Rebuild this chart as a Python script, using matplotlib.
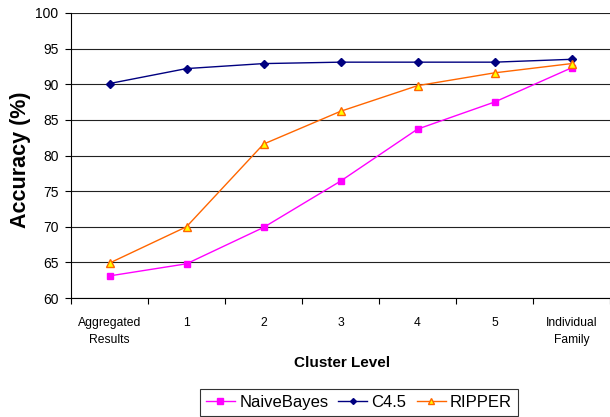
import matplotlib.pyplot as plt
import numpy as np

plt.rcParams['font.family'] = ['Liberation Sans', 'DejaVu Sans']

# cluster levels along the x axis
levels = ['Aggregated\nResults', '1', '2', '3', '4', '5', 'Individual\nFamily']
naive_bayes = [63.1, 64.8, 69.9, 76.4, 83.7, 87.5, 92.3]
c45 = [90.1, 92.2, 92.9, 93.1, 93.1, 93.1, 93.5]
ripper = [64.9, 70.0, 81.6, 86.2, 89.8, 91.6, 92.9]

fig = plt.figure(figsize=(6.1, 4.17), dpi=100)
ax = fig.add_axes([71 / 610, 1 - 298 / 417, 1 - 71 / 610, 285 / 417])

x = np.arange(len(levels))
ax.plot(x, naive_bayes, color='#FF00FF', lw=1, marker='s', ms=5,
        mfc='#FF00FF', mec='#FF00FF', label='NaiveBayes', zorder=3)
ax.plot(x, c45, color='#000080', lw=1, marker='D', ms=4,
        mfc='#000080', mec='#000080', label='C4.5', zorder=3)
ax.plot(x, ripper, color='#FF6600', lw=1, marker='^', ms=6,
        mfc='#FFFF00', mec='#FF6600', mew=1, label='RIPPER', zorder=3)

ax.set_xlim(-0.5, len(levels) - 0.5)
ax.set_ylim(60, 100)
ax.set_yticks(np.arange(60, 101, 5))
ax.yaxis.grid(True, color='#222222', lw=0.8)
ax.set_axisbelow(True)

ax.set_xticks(x)
ax.set_xticklabels(levels, fontsize=8.7, linespacing=1.5)
ax.set_xticks(np.arange(-0.5, len(levels), 1), minor=True)
ax.tick_params(axis='x', which='major', length=0, pad=14)
ax.tick_params(axis='x', which='minor', length=4, width=0.8)
ax.tick_params(axis='y', length=4, width=0.8, labelsize=10, pad=5)

for side in ['top', 'right']:
    ax.spines[side].set_visible(False)
for side in ['left', 'bottom']:
    ax.spines[side].set_linewidth(0.8)

fig.text(21 / 610, 1 - 160 / 417, 'Accuracy (%)', rotation=90,
         ha='center', va='center', fontsize=15.5, fontweight='bold')
fig.text(342 / 610, 1 - 363 / 417, 'Cluster Level', ha='center', va='center',
         fontsize=11, fontweight='bold')

leg = fig.legend(loc='upper left', bbox_to_anchor=(200 / 610, 1 - 389 / 417),
                 ncol=3, fontsize=12, frameon=True, fancybox=False,
                 handlelength=1.75, handletextpad=0.25, columnspacing=0.6,
                 borderpad=0.35, borderaxespad=0, markerscale=0.75)
leg.get_frame().set_edgecolor('black')
leg.get_frame().set_linewidth(0.8)

fig.savefig('out.png', dpi=100)
